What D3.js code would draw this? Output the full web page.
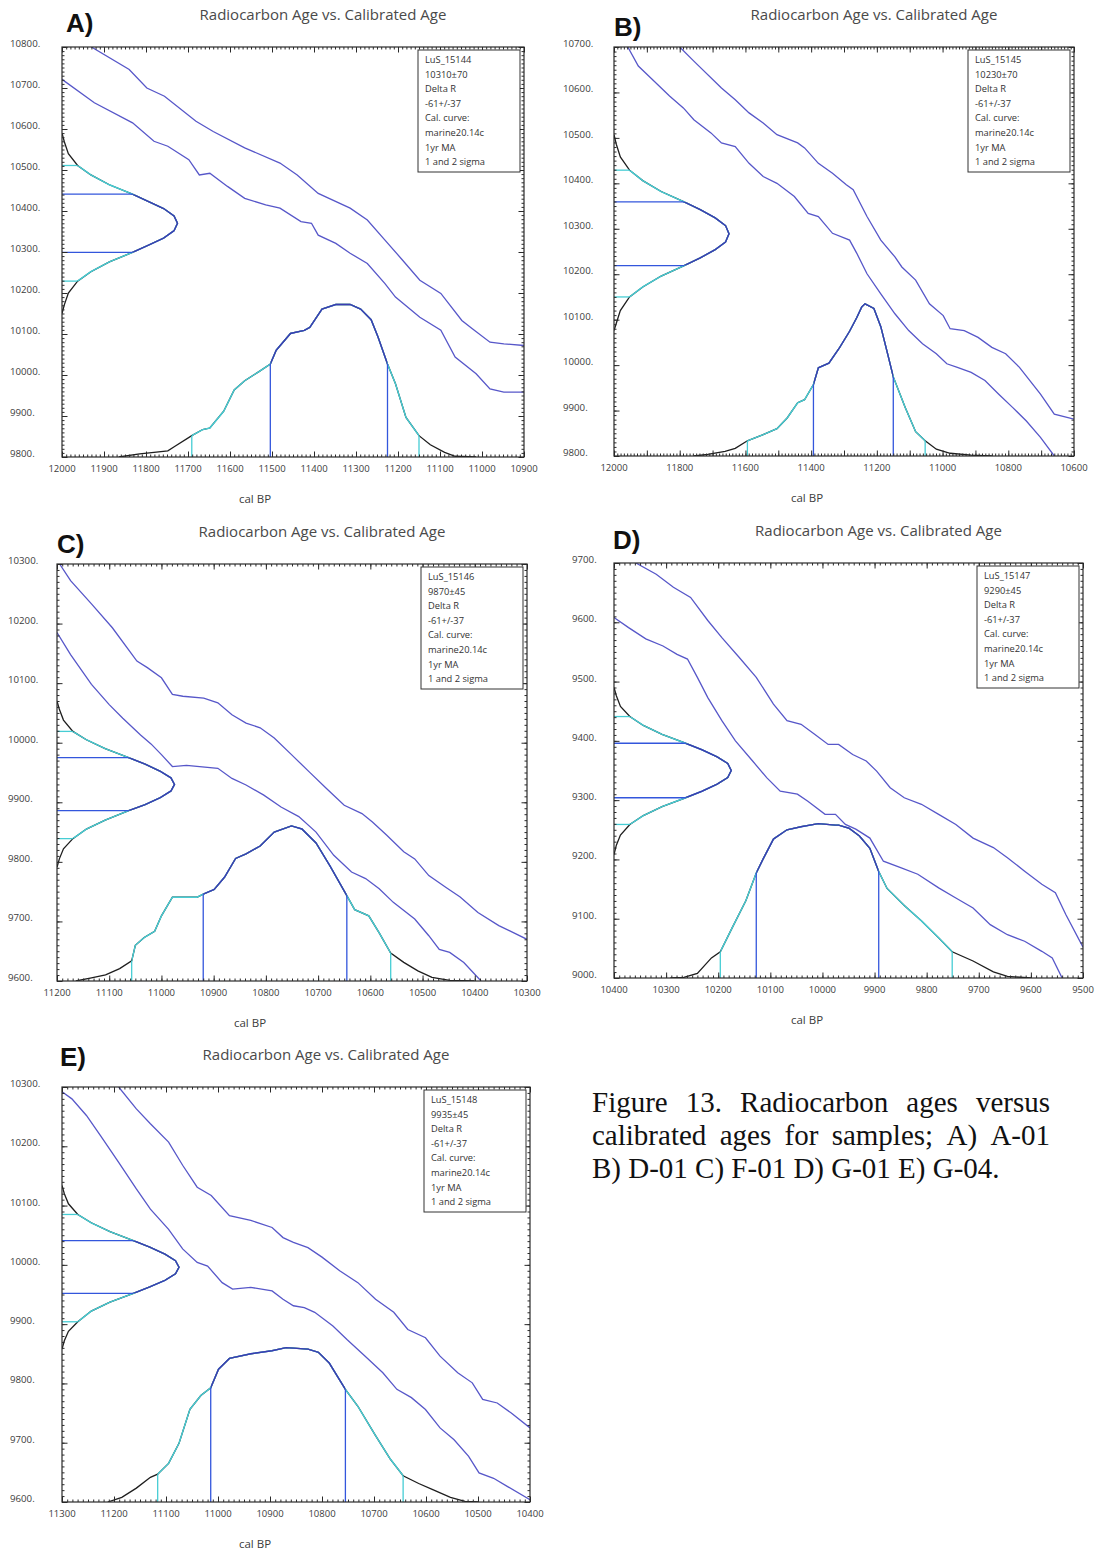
<!DOCTYPE html>
<html>
<head>
<meta charset="utf-8">
<script src="https://cdn.jsdelivr.net/npm/d3@7"></script>
<style>
  body { margin: 0; background: #fff; }
  svg { display: block; }
</style>
</head>
<body>
<svg id="fig" width="1098" height="1553"></svg>
<script>
// ---------------- data ----------------
const panelLetters = ["A)", "B)", "C)", "D)", "E)"];
const sampleLabels = ["LuS_15144", "LuS_15145", "LuS_15146", "LuS_15147", "LuS_15148"];
const sampleAges = ["10310±70", "10230±70", "9870±45", "9290±45", "9935±45"];
const legendLines = ["Delta R", "-61+/-37", "Cal. curve:", "marine20.14c", "1yr MA", "1 and 2 sigma"];
const chartTitle = "Radiocarbon Age vs. Calibrated Age";
const xAxisTitle = "cal BP";

// calendar (cal BP) and radiocarbon axis ranges
const calDomains = [[12000, 10900], [12000, 10600], [11200, 10300], [10400, 9500], [11300, 10400]];
const c14Domains = [[9800, 10800], [9800, 10700], [9600, 10300], [9000, 9700], [9600, 10300]];
const calLabelSteps = [100, 200, 100, 100, 100];

// calibration curve envelopes [cal BP, 14C age]
const curveHighA = [[11930,10800],[11840,10745],[11798,10700],[11756,10680],[11681,10619],[11640,10594],[11565,10554],[11481,10517],[11440,10488],[11390,10443],[11314,10407],[11273,10378],[11231,10329],[11189,10280],[11148,10231],[11098,10199],[11048,10133],[11023,10113],[10981,10080],[10948,10076],[10900,10072]];
const curveLowA = [[12000,10721],[11923,10664],[11832,10615],[11781,10570],[11748,10558],[11698,10525],[11673,10488],[11648,10492],[11606,10460],[11565,10431],[11515,10415],[11481,10407],[11431,10374],[11406,10370],[11390,10341],[11348,10321],[11314,10297],[11273,10272],[11231,10223],[11206,10190],[11148,10141],[11098,10109],[11064,10044],[11014,10003],[10981,9966],[10948,9958],[10900,9958]];

const curveHighB = [[11800,10700],[11757,10669],[11673,10610],[11631,10584],[11589,10555],[11546,10533],[11504,10507],[11441,10489],[11420,10478],[11378,10444],[11335,10422],[11293,10397],[11272,10386],[11230,10327],[11188,10275],[11145,10238],[11124,10216],[11082,10187],[11040,10135],[10998,10109],[10977,10080],[10934,10076],[10892,10061],[10850,10039],[10808,10025],[10766,9995],[10702,9936],[10660,9892],[10600,9881]];
const curveLowB = [[11958,10700],[11926,10658],[11884,10629],[11831,10592],[11789,10566],[11757,10540],[11705,10511],[11673,10489],[11631,10481],[11589,10444],[11546,10415],[11504,10400],[11451,10371],[11409,10334],[11378,10327],[11335,10290],[11283,10275],[11261,10246],[11230,10201],[11188,10157],[11145,10113],[11103,10076],[11061,10047],[11019,10025],[10987,10003],[10955,9995],[10913,9984],[10871,9966],[10829,9936],[10787,9907],[10745,9877],[10702,9841],[10660,9800]];

const curveHighC = [[11195,10300],[11174,10272],[11134,10233],[11094,10193],[11047,10137],[11027,10126],[11000,10109],[10979,10081],[10959,10078],[10919,10075],[10892,10067],[10865,10047],[10838,10033],[10811,10025],[10784,10008],[10751,9980],[10717,9951],[10684,9923],[10650,9895],[10616,9881],[10596,9867],[10569,9845],[10536,9817],[10515,9805],[10488,9777],[10455,9757],[10428,9741],[10394,9715],[10354,9693],[10300,9670]];
const curveLowC = [[11200,10185],[11174,10148],[11134,10098],[11100,10064],[11074,10041],[11040,10013],[11020,9998],[11000,9980],[10979,9960],[10952,9962],[10892,9957],[10865,9940],[10838,9929],[10804,9912],[10771,9892],[10737,9876],[10704,9850],[10670,9811],[10636,9783],[10609,9772],[10583,9755],[10556,9732],[10515,9704],[10488,9676],[10468,9653],[10448,9648],[10421,9631],[10388,9600]];

const curveHighD = [[10358,9700],[10319,9681],[10286,9659],[10253,9642],[10220,9603],[10193,9574],[10160,9541],[10127,9507],[10094,9462],[10068,9434],[10041,9428],[10015,9411],[9989,9394],[9969,9394],[9942,9377],[9916,9366],[9896,9349],[9870,9321],[9843,9304],[9810,9293],[9777,9276],[9744,9259],[9711,9236],[9672,9220],[9645,9203],[9612,9180],[9579,9158],[9553,9144],[9533,9107],[9500,9052]];
const curveLowD = [[10400,9608],[10372,9591],[10339,9572],[10306,9560],[10279,9546],[10259,9538],[10240,9507],[10220,9473],[10193,9434],[10167,9400],[10134,9366],[10107,9338],[10081,9315],[10048,9310],[10028,9298],[9995,9276],[9975,9276],[9956,9259],[9936,9251],[9909,9236],[9883,9197],[9850,9186],[9817,9175],[9777,9152],[9744,9135],[9711,9118],[9678,9090],[9645,9073],[9612,9062],[9579,9045],[9559,9034],[9540,9000]];

const curveHighE = [[11191,10300],[11157,10263],[11130,10238],[11095,10207],[11068,10168],[11040,10131],[11013,10117],[10978,10083],[10937,10075],[10896,10063],[10875,10046],[10855,10038],[10827,10029],[10800,10013],[10766,9990],[10731,9970],[10697,9942],[10662,9920],[10635,9891],[10601,9877],[10573,9846],[10539,9818],[10511,9801],[10491,9773],[10463,9767],[10436,9750],[10400,9725]];
const curveLowE = [[11300,10292],[11281,10280],[11253,10252],[11226,10218],[11191,10173],[11157,10128],[11130,10094],[11095,10060],[11068,10027],[11040,10004],[11020,9998],[10992,9970],[10972,9959],[10937,9962],[10896,9956],[10875,9942],[10855,9931],[10834,9928],[10814,9920],[10779,9897],[10752,9874],[10717,9846],[10683,9818],[10656,9790],[10628,9776],[10601,9756],[10573,9725],[10546,9705],[10518,9677],[10498,9649],[10470,9640],[10443,9626],[10400,9604]];

// radiocarbon age probability [14C age, relative probability]
const c14ProbA = [[10590,0],[10569,0.02],[10540,0.055],[10511,0.135],[10488,0.25],[10464,0.41],[10441,0.61],[10423,0.75],[10406,0.88],[10388,0.97],[10370,1],[10352,0.97],[10334,0.88],[10317,0.75],[10299,0.61],[10276,0.41],[10252,0.25],[10229,0.135],[10200,0.055],[10171,0.02],[10150,0]];
const c14ProbB = [[10507,0],[10486,0.02],[10458,0.055],[10429,0.135],[10406,0.25],[10382,0.41],[10359,0.61],[10342,0.75],[10324,0.88],[10307,0.97],[10289,1],[10271,0.97],[10254,0.88],[10236,0.75],[10219,0.61],[10196,0.41],[10172,0.25],[10150,0.135],[10120,0.055],[10092,0.02],[10076,0]];
const c14ProbC = [[10070,0],[10056,0.02],[10038,0.055],[10019,0.135],[10005,0.25],[9990,0.41],[9975,0.61],[9964,0.75],[9952,0.88],[9941,0.97],[9930,1],[9919,0.97],[9908,0.88],[9896,0.75],[9886,0.61],[9870,0.41],[9855,0.25],[9839,0.135],[9822,0.055],[9805,0.02],[9791,0]];
const c14ProbD = [[9490,0],[9476,0.02],[9458,0.055],[9441,0.135],[9426,0.25],[9411,0.41],[9396,0.61],[9385,0.75],[9373,0.88],[9362,0.97],[9350,1],[9338,0.97],[9327,0.88],[9315,0.75],[9304,0.61],[9289,0.41],[9274,0.25],[9259,0.135],[9241,0.055],[9224,0.02],[9208,0]];
const c14ProbE = [[10134,0],[10120,0.02],[10103,0.055],[10085,0.135],[10071,0.25],[10056,0.41],[10041,0.61],[10030,0.75],[10018,0.88],[10007,0.97],[9996,1],[9985,0.97],[9974,0.88],[9963,0.75],[9952,0.61],[9937,0.41],[9922,0.25],[9904,0.135],[9888,0.055],[9872,0.02],[9858,0]];

// calibrated age probability [cal BP, relative probability]
const calProbA = [[11865,0],[11815,0.02],[11781,0.03],[11748,0.04],[11731,0.07],[11691,0.14],[11665,0.18],[11648,0.19],[11615,0.30],[11590,0.44],[11565,0.50],[11531,0.56],[11504,0.61],[11490,0.70],[11456,0.81],[11423,0.83],[11410,0.85],[11381,0.97],[11348,1],[11314,1],[11289,0.97],[11264,0.90],[11248,0.79],[11225,0.61],[11206,0.48],[11181,0.26],[11150,0.14],[11123,0.08],[11089,0.03],[11064,0.005],[11014,0]];
const calProbB = [[11757,0],[11715,0.01],[11662,0.03],[11631,0.05],[11594,0.10],[11546,0.14],[11504,0.18],[11473,0.25],[11441,0.35],[11420,0.37],[11393,0.47],[11378,0.58],[11346,0.61],[11314,0.71],[11283,0.82],[11261,0.91],[11246,0.98],[11236,1],[11209,0.97],[11188,0.85],[11167,0.67],[11150,0.52],[11114,0.32],[11082,0.16],[11053,0.10],[11019,0.045],[10977,0.018],[10913,0.006],[10850,0]];
const calProbC = [[11164,0],[11134,0.02],[11107,0.04],[11080,0.08],[11057,0.13],[11050,0.23],[11033,0.28],[11013,0.32],[11000,0.42],[10979,0.54],[10952,0.54],[10932,0.54],[10920,0.56],[10899,0.59],[10879,0.67],[10858,0.79],[10838,0.82],[10811,0.87],[10784,0.96],[10751,1],[10731,0.98],[10704,0.89],[10677,0.74],[10645,0.55],[10630,0.46],[10603,0.42],[10583,0.31],[10561,0.18],[10536,0.12],[10509,0.065],[10482,0.023],[10448,0.004],[10401,0]];
const calProbD = [[10292,0],[10266,0.004],[10240,0.03],[10213,0.13],[10196,0.17],[10174,0.32],[10147,0.50],[10127,0.68],[10114,0.77],[10094,0.90],[10068,0.96],[10041,0.98],[10008,1],[9975,0.99],[9969,0.99],[9949,0.97],[9929,0.92],[9909,0.84],[9892,0.69],[9876,0.58],[9843,0.47],[9810,0.37],[9777,0.26],[9751,0.17],[9711,0.11],[9672,0.04],[9645,0.01],[9599,0]];
const calProbE = [[11212,0],[11185,0.03],[11157,0.09],[11130,0.16],[11116,0.18],[11095,0.25],[11075,0.38],[11054,0.60],[11033,0.69],[11014,0.74],[10999,0.86],[10978,0.93],[10937,0.96],[10896,0.98],[10869,1],[10827,0.99],[10807,0.97],[10786,0.90],[10755,0.73],[10731,0.62],[10697,0.43],[10669,0.28],[10644,0.17],[10614,0.12],[10587,0.08],[10553,0.03],[10525,0.004],[10498,0]];

// 1 and 2 sigma ranges
const c14Sigma1 = [[10299,10441],[10219,10359],[9886,9975],[9304,9396],[9952,10041]];
const c14Sigma2 = [[10229,10511],[10150,10429],[9839,10019],[9259,9441],[9904,10085]];
const calSigma1 = [[11225,11504],[11150,11393],[10645,10920],[9892,10127],[10755,11014]];
const calSigma2 = [[11150,11691],[11053,11594],[10561,11057],[9751,10196],[10644,11116]];

const captionLines = [
  "Figure 13. Radiocarbon ages versus",
  "calibrated ages for samples; A) A-01",
  "B) D-01 C) F-01 D) G-01 E) G-04."
];

// ---------------- layout & style ----------------
const frames = [
  { l: 62,  t: 47,   r: 524,  b: 457,  letterX: 66,  letterY: 32,   yLabelX: 10 },
  { l: 614, t: 47,   r: 1074, b: 456,  letterX: 614, letterY: 36,   yLabelX: 563 },
  { l: 57,  t: 564,  r: 527,  b: 981,  letterX: 57,  letterY: 553,  yLabelX: 8 },
  { l: 614, t: 563,  r: 1083, b: 978,  letterX: 613, letterY: 549,  yLabelX: 572 },
  { l: 62,  t: 1087, r: 530,  b: 1502, letterX: 60,  letterY: 1066, yLabelX: 10 }
];
const COL = {
  curve: "#5757c9",
  inner: "#3b3bb3",
  sigma1: "#3356dc",
  cyan: "#46cdd4",
  tail: "#1e1e1e",
  frame: "#2a2a2a",
  text: "#3c3c3c"
};
const FONT = "'Open Sans', 'Noto Sans', sans-serif";

const panels = panelLetters.map((letter, i) => ({
  letter,
  id: sampleLabels[i],
  age: sampleAges[i],
  calDomain: calDomains[i],
  c14Domain: c14Domains[i],
  calStep: calLabelSteps[i],
  high: [curveHighA, curveHighB, curveHighC, curveHighD, curveHighE][i],
  low: [curveLowA, curveLowB, curveLowC, curveLowD, curveLowE][i],
  c14Prob: [c14ProbA, c14ProbB, c14ProbC, c14ProbD, c14ProbE][i],
  calProb: [calProbA, calProbB, calProbC, calProbD, calProbE][i],
  c14S1: c14Sigma1[i], c14S2: c14Sigma2[i],
  calS1: calSigma1[i], calS2: calSigma2[i]
}));

// linear interpolation of a [key, value] series at key v
function valueAt(series, v) {
  for (let k = 0; k < series.length - 1; k++) {
    const a = series[k], b = series[k + 1];
    if ((v - a[0]) * (v - b[0]) <= 0) {
      const t = (b[0] === a[0]) ? 0 : (v - a[0]) / (b[0] - a[0]);
      return a[1] + t * (b[1] - a[1]);
    }
  }
  return 0;
}

const svg = d3.select("#fig");
const defs = svg.append("defs");

panels.forEach((p, i) => {
  const f = frames[i];
  const W = f.r - f.l, H = f.b - f.t;
  const x = d3.scaleLinear().domain(p.calDomain).range([f.l, f.r]);
  const y = d3.scaleLinear().domain(p.c14Domain).range([f.b, f.t]);
  const pw = d3.scaleLinear().domain([0, 1]).range([0, W * 0.25]);
  const ph = d3.scaleLinear().domain([0, 1]).range([0, H * 0.372]);

  const g = svg.append("g").attr("class", "panel");

  // clip regions
  const clipRect = (id, x0, y0, x1, y1) => {
    defs.append("clipPath").attr("id", id).append("rect")
      .attr("x", Math.min(x0, x1)).attr("y", Math.min(y0, y1))
      .attr("width", Math.abs(x1 - x0)).attr("height", Math.abs(y1 - y0));
    return `url(#${id})`;
  };
  const plotClip = clipRect(`plot${i}`, f.l, f.t, f.r, f.b);
  const calClip2 = clipRect(`cal2_${i}`, x(p.calS2[0]), f.t, x(p.calS2[1]), f.b);
  const calClip1 = clipRect(`cal1_${i}`, x(p.calS1[0]), f.t, x(p.calS1[1]), f.b);
  const c14Clip2 = clipRect(`c142_${i}`, f.l, y(p.c14S2[0]), f.r, y(p.c14S2[1]));
  const c14Clip1 = clipRect(`c141_${i}`, f.l, y(p.c14S1[0]), f.r, y(p.c14S1[1]));

  const plot = g.append("g").attr("clip-path", plotClip);

  // calibration curve envelopes
  const curveLine = d3.line().x(d => x(d[0])).y(d => y(d[1]));
  [p.high, p.low].forEach(c => {
    plot.append("path").attr("d", curveLine(c))
      .attr("fill", "none").attr("stroke", COL.curve).attr("stroke-width", 1.3);
  });

  // radiocarbon age distribution along the y axis
  const c14Line = d3.line().x(d => f.l + pw(d[1])).y(d => y(d[0]));
  const c14d = c14Line(p.c14Prob);
  plot.append("path").attr("d", c14d).attr("fill", "none").attr("stroke", COL.tail).attr("stroke-width", 1.3);
  plot.append("g").attr("clip-path", c14Clip2).append("path").attr("d", c14d)
    .attr("fill", "none").attr("stroke", COL.cyan).attr("stroke-width", 1.4);
  plot.append("g").attr("clip-path", c14Clip1).append("path").attr("d", c14d)
    .attr("fill", "none").attr("stroke", COL.inner).attr("stroke-width", 1.4);
  p.c14S2.forEach(v => {
    plot.append("line").attr("x1", f.l).attr("x2", f.l + pw(valueAt(p.c14Prob, v)))
      .attr("y1", y(v)).attr("y2", y(v)).attr("stroke", COL.cyan).attr("stroke-width", 1.3);
  });
  p.c14S1.forEach(v => {
    plot.append("line").attr("x1", f.l).attr("x2", f.l + pw(valueAt(p.c14Prob, v)))
      .attr("y1", y(v)).attr("y2", y(v)).attr("stroke", COL.sigma1).attr("stroke-width", 1.3);
  });

  // calibrated age distribution along the x axis
  const calLine = d3.line().x(d => x(d[0])).y(d => f.b - ph(d[1]));
  const cald = calLine(p.calProb);
  plot.append("path").attr("d", cald).attr("fill", "none").attr("stroke", COL.tail).attr("stroke-width", 1.3);
  plot.append("g").attr("clip-path", calClip2).append("path").attr("d", cald)
    .attr("fill", "none").attr("stroke", COL.cyan).attr("stroke-width", 1.4);
  plot.append("g").attr("clip-path", calClip1).append("path").attr("d", cald)
    .attr("fill", "none").attr("stroke", COL.inner).attr("stroke-width", 1.4);
  p.calS2.forEach(v => {
    plot.append("line").attr("x1", x(v)).attr("x2", x(v))
      .attr("y1", f.b).attr("y2", f.b - ph(valueAt(p.calProb, v)))
      .attr("stroke", COL.cyan).attr("stroke-width", 1.3);
  });
  p.calS1.forEach(v => {
    plot.append("line").attr("x1", x(v)).attr("x2", x(v))
      .attr("y1", f.b).attr("y2", f.b - ph(valueAt(p.calProb, v)))
      .attr("stroke", COL.sigma1).attr("stroke-width", 1.3);
  });

  // axes: inward major (100 yr) and minor (10 yr) ticks on all four sides
  const [c0, c1] = p.calDomain, [r0, r1] = p.c14Domain;
  const calMajor = d3.range(Math.min(c0, c1), Math.max(c0, c1) + 1, 100);
  const calMinor = d3.range(Math.min(c0, c1), Math.max(c0, c1) + 1, 10);
  const c14Major = d3.range(r0, r1 + 1, 100);
  const c14Minor = d3.range(r0, r1 + 1, 10);
  const styleAxis = sel => {
    sel.select(".domain").remove();
    sel.selectAll("line").attr("stroke", COL.frame).attr("stroke-width", 1);
    sel.selectAll("text").remove();
  };
  const ax = g.append("g");
  [[d3.axisBottom, f.b], [d3.axisTop, f.t]].forEach(([mk, yy]) => {
    ax.append("g").attr("transform", `translate(0,${yy})`).call(mk(x).tickValues(calMinor).tickSize(-2.5)).call(styleAxis);
    ax.append("g").attr("transform", `translate(0,${yy})`).call(mk(x).tickValues(calMajor).tickSize(-5.5)).call(styleAxis);
  });
  [[d3.axisLeft, f.l], [d3.axisRight, f.r]].forEach(([mk, xx]) => {
    ax.append("g").attr("transform", `translate(${xx},0)`).call(mk(y).tickValues(c14Minor).tickSize(-2.5)).call(styleAxis);
    ax.append("g").attr("transform", `translate(${xx},0)`).call(mk(y).tickValues(c14Major).tickSize(-5.5)).call(styleAxis);
  });

  // frame
  g.append("rect").attr("x", f.l).attr("y", f.t).attr("width", W).attr("height", H)
    .attr("fill", "none").attr("stroke", COL.frame).attr("stroke-width", 1.2);

  // tick labels
  const calLabels = d3.range(Math.min(c0, c1), Math.max(c0, c1) + 1, p.calStep);
  g.append("g").selectAll("text").data(calLabels).join("text")
    .attr("x", d => x(d)).attr("y", f.b + 14.5)
    .attr("text-anchor", "middle")
    .attr("font-family", FONT).attr("font-size", 9.5).attr("fill", COL.text)
    .text(d => d);
  g.append("g").selectAll("text").data(c14Major).join("text")
    .attr("x", f.yLabelX).attr("y", d => y(d))
    .attr("text-anchor", "start")
    .attr("font-family", FONT).attr("font-size", 9.7).attr("fill", COL.text)
    .text(d => d + ".");

  // titles
  g.append("text").attr("x", (f.l + f.r) / 2 + 30).attr("y", f.t - 27)
    .attr("text-anchor", "middle").attr("font-family", FONT).attr("font-size", 15)
    .attr("fill", "#4a4a4a").text(chartTitle);
  g.append("text").attr("x", f.letterX).attr("y", f.letterY)
    .attr("font-family", "'Liberation Sans', Arial, sans-serif").attr("font-weight", "bold")
    .attr("font-size", 26).attr("fill", "#111").text(p.letter);
  g.append("text").attr("x", f.l + 193).attr("y", f.b + 46)
    .attr("text-anchor", "middle").attr("font-family", FONT).attr("font-size", 11.5)
    .attr("fill", COL.text).text(xAxisTitle);

  // legend box
  const bw = 102, bh = 122;
  const bx = f.r - 4 - bw, by = f.t + 3;
  g.append("rect").attr("x", bx).attr("y", by).attr("width", bw).attr("height", bh)
    .attr("fill", "#fff").attr("stroke", "#333").attr("stroke-width", 1);
  const lines = [p.id, p.age].concat(legendLines);
  g.append("g").selectAll("text").data(lines).join("text")
    .attr("x", bx + 7).attr("y", (d, k) => by + 13 + k * 14.6)
    .attr("font-family", FONT).attr("font-size", 9.3).attr("fill", "#333")
    .text(d => d);
});

// figure caption, justified except for the last line
const cap = svg.append("g")
  .attr("font-family", "'Liberation Serif', 'Times New Roman', serif")
  .attr("font-size", 29).attr("fill", "#111");
const capLeft = 592, capRight = 1050, capBase = 1112, capGap = 33;
captionLines.forEach((line, k) => {
  const yb = capBase + k * capGap;
  if (k < captionLines.length - 1) {
    const words = line.split(" ");
    const nodes = words.map(w => cap.append("text").attr("y", yb).text(w));
    const widths = nodes.map(n => n.node().getComputedTextLength());
    const gap = (capRight - capLeft - d3.sum(widths)) / (words.length - 1);
    let xx = capLeft;
    nodes.forEach((n, j) => { n.attr("x", xx); xx += widths[j] + gap; });
  } else {
    cap.append("text").attr("x", capLeft).attr("y", yb).text(line);
  }
});
</script>
</body>
</html>
